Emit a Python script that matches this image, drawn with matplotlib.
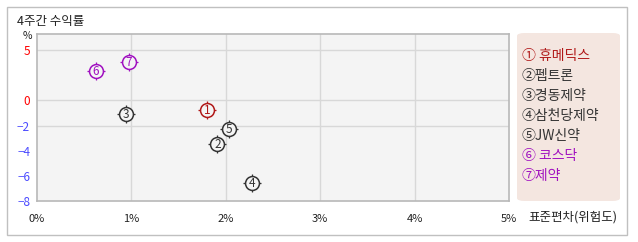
import numpy as np
import matplotlib
matplotlib.use('Agg')
import matplotlib.pyplot as plt
from matplotlib.patches import FancyBboxPatch, Rectangle

plt.rcParams['font.family'] = ['Noto Sans CJK KR', 'DejaVu Sans']

# data
names = ['휴메딕스', '펩트론', '경동제약', '삼천당제약', 'JW신약', '코스닥', '제약']
risk = [1.80, 1.91, 0.94, 2.28, 2.03, 0.62, 0.97]      # 표준편차 (%)
ret4w = [-0.8, -3.5, -1.1, -6.6, -2.3, 2.9, 3.8]       # 4주간 수익률 (%)
nums = ['1', '2', '3', '4', '5', '6', '7']
circled = ['① ', '②', '③', '④', '⑤', '⑥ ', '⑦']
xticks = [0, 1, 2, 3, 4, 5]
yticks = [5, 0, -2, -4, -6, -8]
ygrid = [5, 0, -2]

red = '#b01818'
dark = '#333333'
purple = '#a010c0'
colors = [red, dark, dark, dark, dark, purple, purple]
bg = '#f4f4f4'

fig = plt.figure(figsize=(6.38, 2.42), dpi=100)
fig.patch.set_facecolor('white')
# outer frame
fig.patches.append(Rectangle((7/638, 1-235/242), 620/638, 228/242, transform=fig.transFigure,
                             fill=False, edgecolor='#c0c0c0', linewidth=1))

ax = fig.add_axes([37/638, 1-201/242, 472/638, 167/242])
ax.set_facecolor(bg)

# y axis is squeezed above zero
def fwd(y):
    y = np.asarray(y, dtype=float)
    return np.where(y >= 0, y*0.8, y)
def inv(t):
    t = np.asarray(t, dtype=float)
    return np.where(t >= 0, t/0.8, t)
ax.set_yscale('function', functions=(fwd, inv))
ax.set_ylim(-8, 6.6)
ax.set_xlim(0, 5)

for gx in xticks[1:-1]:
    ax.axvline(gx, color='#d8d8d8', lw=1, zorder=0)
for gy in ygrid:
    ax.axhline(gy, color='#d8d8d8', lw=1, zorder=0)

for sp in ax.spines.values():
    sp.set_color('#b8b8b8')
    sp.set_linewidth(1.2)

ax.set_xticks(xticks)
ax.set_xticklabels([f'{v}%' for v in xticks], fontsize=8, color='#222222')
ax.set_yticks(yticks)
ax.set_yticklabels([str(v).replace('-', '−') for v in yticks], fontsize=8.5)
for lab, v in zip(ax.get_yticklabels(), yticks):
    lab.set_color('red' if v >= 0 else '#4a4aff')
ax.tick_params(length=0, pad=5)
ax.tick_params(axis='x', pad=9)
ax.yaxis.set_minor_locator(matplotlib.ticker.NullLocator())

for x, y, n, c in zip(risk, ret4w, nums, colors):
    ax.plot(x, y, marker='+', ms=12.6, mew=0.9, color=c, zorder=3)
    ax.plot(x, y, marker='o', ms=10, mew=1.1, mfc=bg, mec=c, zorder=4)
    ax.text(x, y, n, fontsize=8.5, color=c, ha='center', va='center', zorder=5)

fig.text(17/638, 1-21/242, '4주간 수익률', fontsize=9, color='#222222', va='center')
fig.text(23/638, 1-36/242, '%', fontsize=7.5, color='#222222', va='center')
fig.text(528/638, 1-217/242, '표준편차(위험도)', fontsize=9, color='#222222', va='center')

# legend box
fig.patches.append(FancyBboxPatch((517/638, 1-201/242), 103/638, 168/242,
                                  boxstyle='round,pad=0,rounding_size=0.012',
                                  transform=fig.transFigure, facecolor='#f4e6e0',
                                  edgecolor='none'))
for i, (nm, cc, c) in enumerate(zip(names, circled, colors)):
    fig.text(522/638, 1-(56+20*i)/242, f'{cc}{nm}', fontsize=10, color=c, va='center')

fig.savefig('out.png', dpi=100)
